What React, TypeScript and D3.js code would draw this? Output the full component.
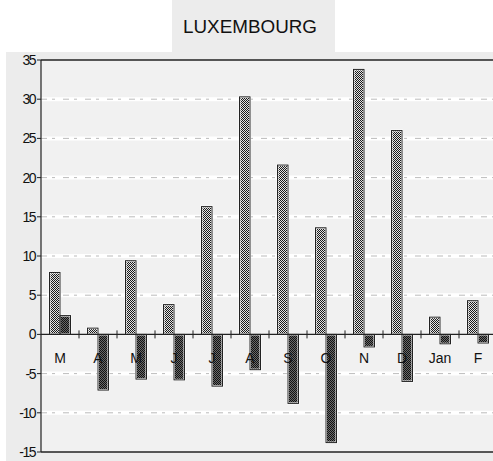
import React from "react";
import * as d3 from "d3";

const categories = ["M", "A", "M", "J", "J", "A", "S", "O", "N", "D", "Jan", "F"];
const seriesLight = [7.9, 0.8, 9.4, 3.8, 16.3, 30.3, 21.6, 13.6, 33.8, 26.0, 2.2, 4.3];
const seriesDark = [2.4, -7.1, -5.7, -5.8, -6.6, -4.5, -8.8, -13.8, -1.6, -6.0, -1.2, -1.1];
const yTicks = [35, 30, 25, 20, 15, 10, 5, 0, -5, -10, -15];
const title = "LUXEMBOURG";

const W = 493;
const H = 461;
const left = 41;
const right = 497;
const top = 60;
const bottom = 452;

export default function App() {
  const x = d3.scaleBand<string>().domain(categories.map((_, i) => String(i))).range([left, right]).padding(0);
  const y = d3.scaleLinear().domain([-15, 35]).range([bottom, top]);
  const bw = x.bandwidth();
  const barW = 10.5;
  const y0 = y(0);
  const font = "'Liberation Sans', Arial, sans-serif";
  return (
    <svg width={W} height={H} style={{ position: "absolute", left: 0, top: 0, background: "#fff" }}>
      <defs>
        <pattern id="pLight" width="2" height="2" patternUnits="userSpaceOnUse">
          <rect width="2" height="2" fill="#e4e4e4" />
          <rect x="0" y="0" width="1" height="1" fill="#1a1a1a" />
          <rect x="1" y="1" width="1" height="1" fill="#1a1a1a" />
        </pattern>
        <pattern id="pDark" width="2" height="2" patternUnits="userSpaceOnUse">
          <rect width="2" height="2" fill="#6a6a6a" />
          <rect x="0" y="0" width="1" height="1" fill="#111" />
          <rect x="1" y="1" width="1" height="1" fill="#111" />
        </pattern>
      </defs>
      <rect x={6} y={52} width={W - 6} height={H - 52} fill="#ececec" />
      <rect x={172} y={0} width={163} height={52} fill="#ececec" />
      <text x={250} y={33} textAnchor="middle" fontFamily={font} fontSize={18} textLength={134} lengthAdjust="spacingAndGlyphs" fill="#111">{title}</text>
      <rect x={left} y={top} width={W - left} height={bottom - top} fill="#f1f1f1" />
      {yTicks.filter(t => t !== 35 && t !== -15 && t !== 0).map(t => (
        <g key={t}>
          <line x1={left} x2={W} y1={y(t)} y2={y(t)} stroke="#fff" strokeWidth={4} />
          <line x1={left} x2={W} y1={y(t)} y2={y(t)} stroke="#aaa" strokeWidth={0.8} strokeDasharray="6 5 3 8" />
        </g>
      ))}
      {yTicks.map(t => (
        <g key={"l" + t}>
          <line x1={left - 4} x2={left} y1={y(t)} y2={y(t)} stroke="#222" strokeWidth={1} />
          <text x={35} y={y(t) + 5} textAnchor="end" fontFamily={font} fontSize={14} letterSpacing={-1.5} fill="#111">{t}</text>
        </g>
      ))}
      {categories.map((c, i) => {
        const cx = (x(String(i)) as number) + bw / 2;
        const vals = [seriesLight[i], seriesDark[i]];
        return (
          <g key={"b" + i}>
            {vals.map((v, j) => {
              const bx = cx - barW + j * barW;
              const yy = Math.min(y(v), y0);
              const hh = Math.abs(y(v) - y0);
              return (
                <rect key={j} x={bx} y={yy} width={barW} height={hh} fill={j === 0 ? "url(#pLight)" : "url(#pDark)"} stroke="#fff" strokeWidth={2} />
              );
            })}
            {vals.map((v, j) => {
              const bx = cx - barW + j * barW;
              const yy = Math.min(y(v), y0);
              const hh = Math.abs(y(v) - y0);
              return (
                <rect key={"s" + j} x={bx} y={yy} width={barW} height={hh} fill="none" stroke="#222" strokeWidth={1} />
              );
            })}
          </g>
        );
      })}
      <line x1={left} x2={W} y1={y0} y2={y0} stroke="#222" strokeWidth={1.2} />
      {categories.map((_, i) => i > 0 && (
        <line key={"t" + i} x1={x(String(i)) as number} x2={x(String(i)) as number} y1={y0 - 4} y2={y0 + 4} stroke="#222" strokeWidth={1} />
      ))}
      {categories.map((c, i) => (
        <text key={"c" + i} x={(x(String(i)) as number) + bw / 2} y={363} textAnchor="middle" fontFamily={font} fontSize={14} fill="#111">{c}</text>
      ))}
      <line x1={left} x2={W} y1={top} y2={top} stroke="#222" strokeWidth={1.5} />
      <line x1={left} x2={W} y1={bottom} y2={bottom} stroke="#222" strokeWidth={1.5} />
      <line x1={left} x2={left} y1={top} y2={bottom} stroke="#222" strokeWidth={1.2} />
    </svg>
  );
}
